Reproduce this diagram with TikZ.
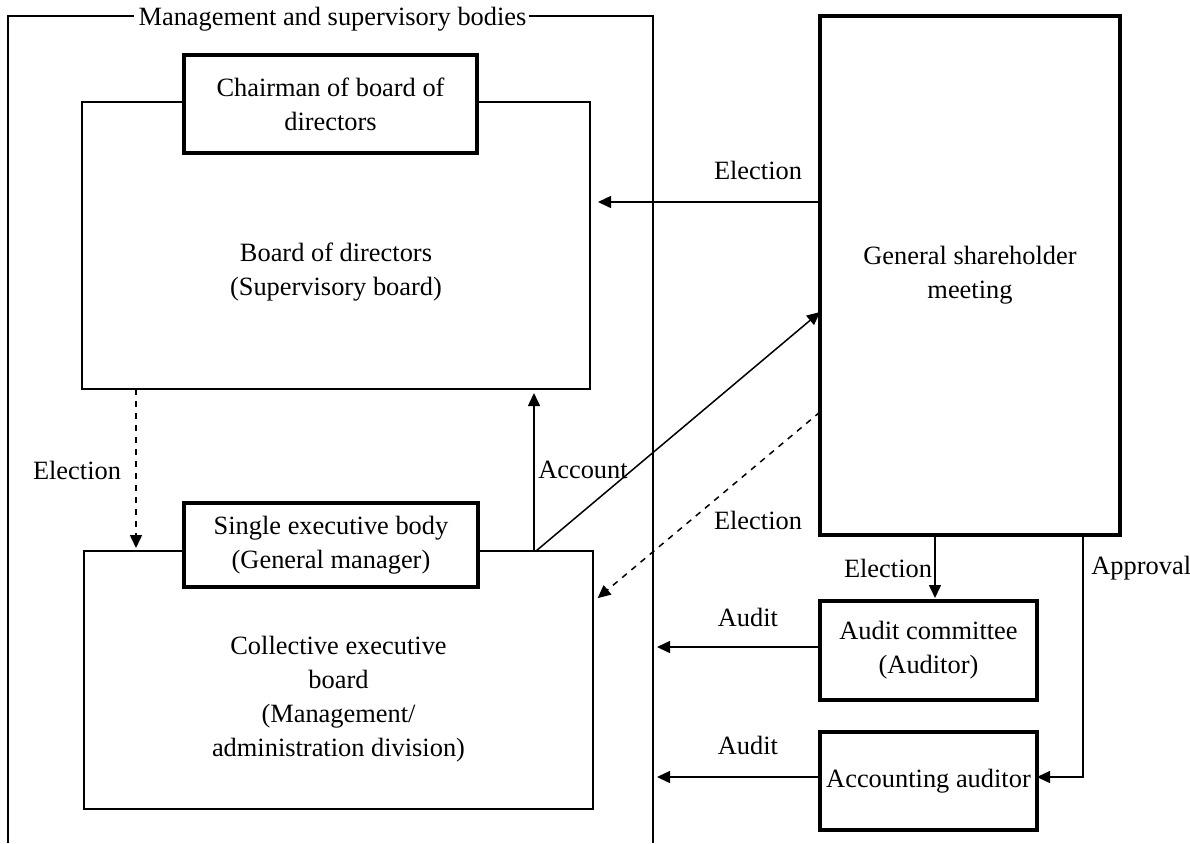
\documentclass[tikz,border=0pt]{standalone}
\usepackage{fontspec}
\setmainfont{Liberation Serif}
\usetikzlibrary{arrows.meta}
\begin{document}
\begin{tikzpicture}[x=0.5pt, y=-0.5pt, line cap=butt, line join=miter,
		font=\fontsize{13.2}{17}\selectfont, >={Triangle[length=6.5pt,width=6pt]}]
	\tikzset{thickbox/.style={draw, line width=1.6pt, fill=white, inner sep=0pt, outer sep=0pt, align=center},
		thinbox/.style={draw, line width=1.1pt, inner sep=0pt, outer sep=0pt},
		link/.style={line width=0.75pt},
		lbl/.style={inner sep=0pt}}
	\useasboundingbox (0,0) rectangle (1190,843);
	% management frame
	\node[lbl, anchor=base] (title) at (332.5,25) {Management and supervisory bodies};
	\coordinate (frameR) at (653,843);
	\draw[line width=1.1pt] (8,843) |- ([xshift=-2pt]title.west |- 0,16);
	\draw[line width=1.1pt] ([xshift=1pt]title.east |- 0,16) -| (frameR);
	% boards
	\node[thinbox, minimum width=254pt, minimum height=143.5pt] (board) at (336,245.5) {};
	\node[align=center] (boardtxt) at (336,272) {Board of directors\\(Supervisory board)};
	\node[thickbox, minimum width=146.5pt, minimum height=49pt] (chair) at (330.5,104) {Chairman of board of\\directors};
	\node[thinbox, minimum width=254.5pt, minimum height=129pt] (coll) at (338.5,680) {};
	\node[align=center] (colltxt) at (338.5,699) {Collective executive\\board\\(Management/\\administration division)};
	\node[thickbox, minimum width=147pt, minimum height=42pt] (single) at (331,545) {Single executive body\\(General manager)};
	% right side
	\node[thickbox, minimum width=150pt, minimum height=259.5pt] (gsm) at (970,275.5) {General shareholder\\meeting};
	\node[thickbox, minimum width=108.5pt, minimum height=49.5pt] (audit) at (928.5,650.5) {Audit committee\\(Auditor)};
	\node[thickbox, minimum width=108.5pt, minimum height=49pt] (acct) at (928.5,781) {Accounting auditor};
	% connectors
	\draw[link, ->, shorten >=4pt] (gsm.west |- 0,202) -- (board.east |- 0,202);
	\node[lbl] at (758,170) {Election};
	\draw[link, ->, dashed, shorten >=1.5pt] (board.south -| 136,0) -- (coll.north -| 136,0);
	\node[lbl] at (77,470) {Election};
	\draw[link, ->, shorten >=2pt] (coll.north -| 534,0) -- (board.south -| 534,0);
	\node[lbl] at (583,470) {Account};
	\draw[link, ->] (coll.north -| 536,0) -- (gsm.west |- 0,312);
	\draw[link, ->, dashed, shorten >=3pt] (gsm.west |- 0,412) -- (coll.east |- 0,602);
	\node[lbl] at (758,520) {Election};
	\draw[link, ->, shorten >=1.5pt] (gsm.south -| 935,0) -- (audit.north -| 935,0);
	\node[lbl] at (888,568) {Election};
	\draw[link, ->] (gsm.south -| 1083,0) |- (acct.east |- 0,777);
	\node[lbl, anchor=west] at (1091,568) {Approval};
	\draw[link, ->, shorten >=2pt] (audit.west |- 0,647) -- (frameR |- 0,647);
	\node[lbl] at (748,617) {Audit};
	\draw[link, ->, shorten >=2pt] (acct.west |- 0,777) -- (frameR |- 0,777);
	\node[lbl] at (748,745) {Audit};
\end{tikzpicture}
\end{document}
